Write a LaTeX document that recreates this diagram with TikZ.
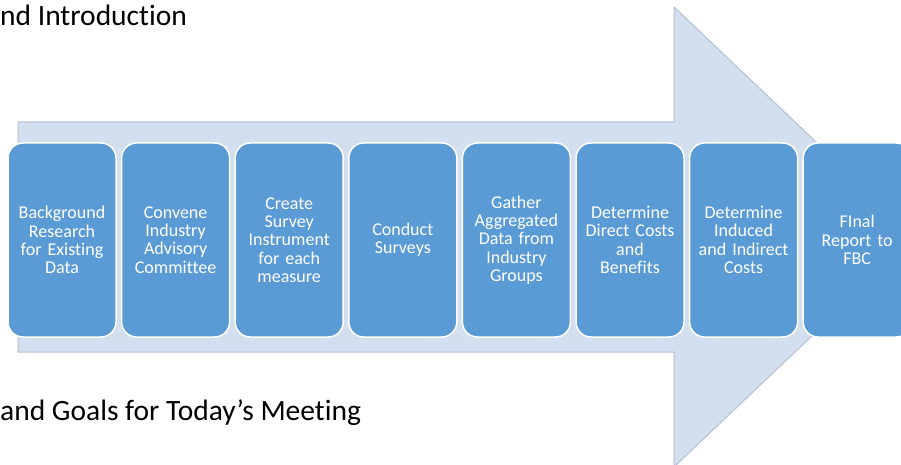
\documentclass[tikz,border=0pt]{standalone}
\usepackage{fontspec}
\setmainfont[Ligatures={NoCommon}]{Carlito}
\definecolor{boxblue}{HTML}{5B9BD5}
\definecolor{arrowfill}{HTML}{D3DEEF}
\definecolor{arrowline}{HTML}{B4C0D3}
\begin{document}
\begin{tikzpicture}[x=1pt,y=-1pt,
  stepbox/.style={draw=white, line width=1.5pt, fill=boxblue, rounded corners=15pt,
    minimum width=108pt, minimum height=194pt, inner sep=0pt, text width=106pt,
    align=center, text=white, font=\fontsize{18}{18.3}\selectfont},
  titletext/.style={anchor=base west, inner sep=0pt, font=\fontsize{29.5}{34}\selectfont, text=black}]
\useasboundingbox (0,0) rectangle (901,465);
\clip (0,0) rectangle (901,465);
\draw[arrowline, fill=arrowfill, line width=1pt]
  (18,122) -- (674,122) -- (674,7) -- (916,237) -- (674,467) -- (674,352) -- (18,352) -- cycle;
\node[stepbox] (s1) at (62,240) {Background\\Research\\for Existing\\Data};
\node[stepbox] (s2) at (175.6,240) {Convene\\Industry\\Advisory\\Committee};
\node[stepbox] (s3) at (289.2,240) {Create\\Survey\\Instrument\\for each\\measure};
\node[stepbox] (s4) at (402.8,240) {Conduct\\Surveys};
\node[stepbox] (s5) at (516.4,240) {Gather\\Aggregated\\Data from\\Industry\\Groups};
\node[stepbox] (s6) at (630,240) {Determine\\Direct Costs\\and\\Benefits};
\node[stepbox] (s7) at (743.6,240) {Determine\\Induced\\and Indirect\\Costs};
\node[stepbox] (s8) at (857.2,240) {FInal\\Report to\\FBC};
\node[titletext] (t1) at (0,26) {nd Introduction};
\node[titletext] (t2) at (0,420) {and Goals for Today’s Meeting};
\end{tikzpicture}
\end{document}
